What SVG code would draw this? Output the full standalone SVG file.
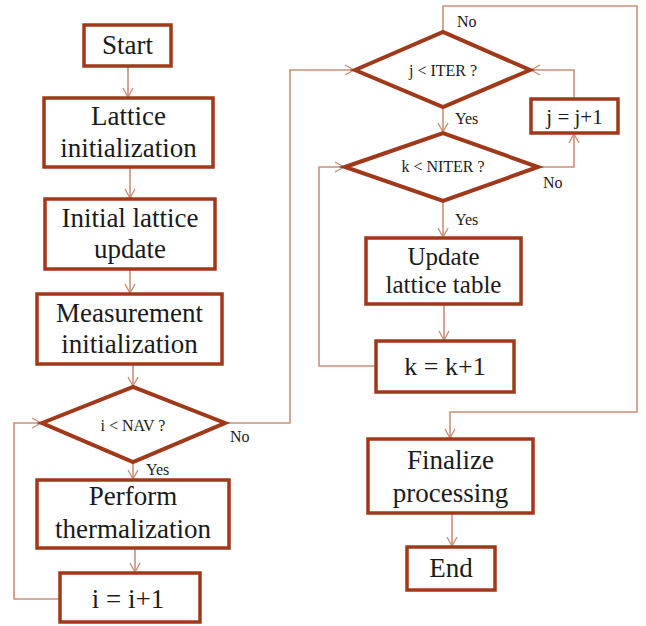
<svg xmlns="http://www.w3.org/2000/svg" width="646" height="626" viewBox="0 0 646 626">
<style>
.box{fill:#fff;stroke:#a0381a;stroke-width:3.5}
.dia{fill:#fff;stroke:#a0381a;stroke-width:4;stroke-linejoin:miter}
.t{font-family:"Liberation Serif","Times New Roman",serif;fill:#1a1a1a;text-anchor:middle}
.big{font-size:27px}
.sm{font-size:16px}
.lb{font-family:"Liberation Serif","Times New Roman",serif;fill:#1a1a1a;font-size:16px}
.c{fill:none;stroke:#cc8f7a;stroke-width:1.6}
</style>
<defs>
<marker id="ah" markerWidth="12" markerHeight="12" refX="10" refY="6" orient="auto" markerUnits="userSpaceOnUse">
<path d="M1,1 L10,6 L1,11" fill="none" stroke="#cc8f7a" stroke-width="1.4"/>
</marker>
</defs>
<rect width="646" height="626" fill="#fff"/>
<g id="connectors">
<path class="c" d="M128,66 V97" marker-end="url(#ah)"/>
<path class="c" d="M130,168 V198" marker-end="url(#ah)"/>
<path class="c" d="M130,270 V293" marker-end="url(#ah)"/>
<path class="c" d="M133,365 V386" marker-end="url(#ah)"/>
<path class="c" d="M133,462 V479" marker-end="url(#ah)"/>
<path class="c" d="M135,549 V572" marker-end="url(#ah)"/>
<path class="c" d="M60,599 H14 V423 H41" marker-end="url(#ah)"/>
<path class="c" d="M225,423 H290 V70 H354" marker-end="url(#ah)"/>
<path class="c" d="M443,107 V132" marker-end="url(#ah)"/>
<path class="c" d="M443,201 V237" marker-end="url(#ah)"/>
<path class="c" d="M444,305 V340" marker-end="url(#ah)"/>
<path class="c" d="M376,366 H319 V167 H344" marker-end="url(#ah)"/>
<path class="c" d="M538,167 H574 V134" marker-end="url(#ah)"/>
<path class="c" d="M574,99 V70 H531" marker-end="url(#ah)"/>
<path class="c" d="M443,32 V6 H637 V412 H450 V438" marker-end="url(#ah)"/>
<path class="c" d="M452,514 V546" marker-end="url(#ah)"/>
</g>
<g id="start"><rect class="box" x="84" y="25" width="87" height="41"/><text class="t big" x="127.5" y="54">Start</text></g>
<g id="lattice-init"><rect class="box" x="44" y="98" width="169" height="69"/><text class="t big" x="128.5" y="125">Lattice</text><text class="t big" x="128.5" y="157">initialization</text></g>
<g id="initial-update"><rect class="box" x="45" y="199" width="170" height="70"/><text class="t big" x="130" y="227">Initial lattice</text><text class="t big" x="130" y="258">update</text></g>
<g id="measurement-init"><rect class="box" x="37" y="294" width="185" height="70"/><text class="t big" x="129.5" y="322">Measurement</text><text class="t big" x="129.5" y="353">initialization</text></g>
<g id="cond-i"><polygon class="dia" points="42,423 133,387 225,423 133,462"/><text class="t sm" x="133" y="431">i &lt; NAV ?</text></g>
<g id="thermalization"><rect class="box" x="37" y="480" width="192" height="68"/><text class="t big" x="133" y="505">Perform</text><text class="t big" x="133" y="538">thermalization</text></g>
<g id="inc-i"><rect class="box" x="60" y="573" width="140" height="49"/><text class="t big" x="128" y="608">i = i+1</text></g>
<g id="cond-j"><polygon class="dia" points="355,70 443,32 530,70 443,107"/><text class="t sm" x="443" y="76">j &lt; ITER ?</text></g>
<g id="inc-j"><rect class="box" x="531" y="99" width="87" height="34"/><text class="t" style="font-size:21px" x="574.5" y="124">j = j+1</text></g>
<g id="cond-k"><polygon class="dia" points="345,167 443,133 538,167 443,201"/><text class="t sm" x="443" y="172">k &lt; NITER ?</text></g>
<g id="update-table"><rect class="box" x="366" y="238" width="155" height="66"/><text class="t" style="font-size:25px" x="443.5" y="265">Update</text><text class="t" style="font-size:25px" x="443.5" y="293">lattice table</text></g>
<g id="inc-k"><rect class="box" x="376" y="341" width="138" height="51"/><text class="t" style="font-size:26px" x="445" y="375">k = k+1</text></g>
<g id="finalize"><rect class="box" x="368" y="439" width="165" height="74"/><text class="t big" x="450.5" y="469">Finalize</text><text class="t big" x="450.5" y="502">processing</text></g>
<g id="end"><rect class="box" x="407" y="547" width="88" height="43"/><text class="t big" x="451" y="577">End</text></g>
<g id="labels">
<text class="lb" x="230" y="442">No</text>
<text class="lb" x="146" y="475">Yes</text>
<text class="lb" x="457" y="27">No</text>
<text class="lb" x="455" y="124">Yes</text>
<text class="lb" x="543" y="188">No</text>
<text class="lb" x="455" y="225">Yes</text>
</g>
</svg>
